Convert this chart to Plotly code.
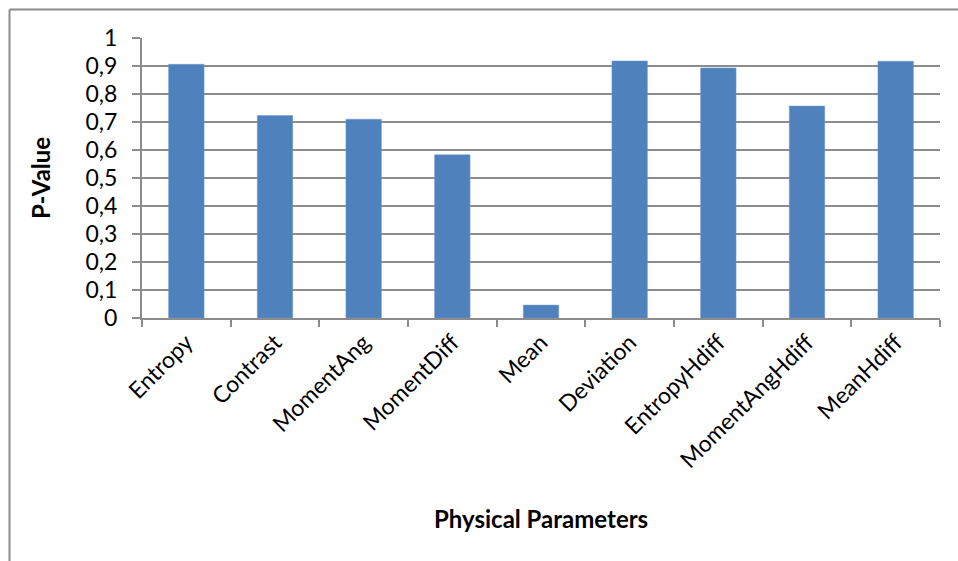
import plotly.graph_objects as go

# P-values per physical parameter
categories = ["Entropy", "Contrast", "MomentAng", "MomentDiff", "Mean",
              "Deviation", "EntropyHdiff", "MomentAngHdiff", "MeanHdiff"]
p_values = [0.906, 0.723, 0.710, 0.583, 0.046, 0.918, 0.893, 0.757, 0.917]

y_tick_vals = [0, 0.1, 0.2, 0.3, 0.4, 0.5, 0.6, 0.7, 0.8, 0.9, 1]
y_tick_text = ["0", "0,1", "0,2", "0,3", "0,4", "0,5", "0,6", "0,7", "0,8", "0,9", "1"]

W, H = 958, 561
L, R, T, B = 142, 18, 38, 243
PW, PH = W - L - R, H - T - B

FONT = "Lato, 'Open Sans', sans-serif"
GRID = "#8c8c8c"
TICK_SIZE = 23
TITLE_SIZE = 24


def px_x(px):
    return (px - L) / PW


def px_y(py):
    return (H - B - py) / PH


fig = go.Figure(
    go.Bar(
        x=categories,
        y=p_values,
        width=0.4,
        marker=dict(color="#4F81BD", line=dict(color="#6f9ad0", width=0.5)),
    )
)

fig.update_layout(
    width=W,
    height=H,
    margin=dict(l=L, r=R, t=T, b=B, pad=0),
    paper_bgcolor="white",
    plot_bgcolor="white",
    showlegend=False,
    font=dict(family=FONT, size=TICK_SIZE, color="#000000"),
    bargap=0.6,
)

fig.update_xaxes(
    type="category",
    tickson="boundaries",
    ticks="outside",
    ticklen=7,
    tickwidth=1.5,
    tickcolor=GRID,
    showline=True,
    linecolor=GRID,
    linewidth=2,
    showgrid=False,
    tickangle=-45,
    tickfont=dict(family=FONT, size=TICK_SIZE, color="#000000"),
)

fig.update_yaxes(
    range=[0, 1],
    tickvals=y_tick_vals,
    ticktext=y_tick_text,
    ticks="outside",
    ticklen=8,
    tickwidth=1.5,
    tickcolor=GRID,
    ticklabelstandoff=10,
    showline=True,
    linecolor=GRID,
    linewidth=2,
    showgrid=True,
    gridcolor=GRID,
    gridwidth=2,
    zeroline=False,
    tickfont=dict(family=FONT, size=TICK_SIZE, color="#000000"),
)

# axis titles
fig.add_annotation(
    text="<b>Physical Parameters</b>",
    xref="paper", yref="paper",
    x=px_x(541), y=px_y(518),
    showarrow=False,
    font=dict(family=FONT, size=TITLE_SIZE, color="#000000"),
    xanchor="center", yanchor="middle",
)
fig.add_annotation(
    text="<b>P-Value</b>",
    xref="paper", yref="paper",
    x=px_x(40), y=px_y(178),
    showarrow=False,
    textangle=-90,
    font=dict(family=FONT, size=TITLE_SIZE, color="#000000"),
    xanchor="center", yanchor="middle",
)

# chart-area border (top and left edges visible)
fig.add_shape(type="line", xref="paper", yref="paper",
              x0=px_x(9.5), y0=px_y(9.5), x1=px_x(970), y1=px_y(9.5),
              line=dict(color="#8c8c8c", width=2))
fig.add_shape(type="line", xref="paper", yref="paper",
              x0=px_x(9.5), y0=px_y(9.5), x1=px_x(9.5), y1=px_y(575),
              line=dict(color="#8c8c8c", width=2))

fig.write_html("out.html")
